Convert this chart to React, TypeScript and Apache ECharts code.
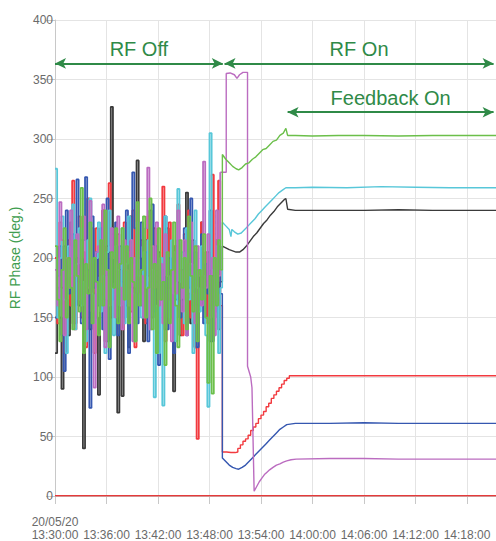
import React, { useEffect, useRef } from "react";
import * as echarts from "echarts";

// Time axis in minutes after 20/05/20 13:30:00
const xTicksMinutes = [0, 6, 12, 18, 24, 30, 36, 42, 48];
const xMax = 51.38;
const noiseStepMinutes = 0.25;

const blackNoise = [
  120, 175, 150, 90, 210, 165, 135, 230, 185, 145,
  200, 160, 215, 40, 175, 190, 140, 225, 170, 150,
  85, 195, 240, 165, 130, 205, 327, 180, 150, 70,
  190, 84, 215, 160, 125, 235, 175, 145, 282, 200,
  160, 130, 215, 185, 240, 150, 175, 120, 205, 165,
  190, 140, 225, 175, 155, 88, 210, 180, 135, 165,
  200, 255, 170, 145, 215, 125, 190, 160, 230, 175,
  150, 205, 130, 185, 160, 215, 140, 180,
];
const redNoise = [
  200, 145, 230, 175, 120, 190, 215, 160, 265, 140,
  180, 235, 150, 205, 125, 250, 170, 195, 120, 225,
  185, 160, 240, 130, 210, 263, 150, 175, 195, 220,
  165, 140, 230, 185, 205, 155, 240, 125, 170, 210,
  215, 180, 145, 235, 190, 160, 225, 140, 200, 175,
  260, 130, 175, 230, 150, 210, 185, 245, 160, 135,
  220, 175, 240, 150, 195, 125, 48, 185, 230, 160,
  205, 145, 190, 270, 175, 215, 265, 160,
];
const blueNoise = [
  150, 185, 210, 135, 105, 240, 170, 195, 220, 160,
  266, 180, 145, 215, 268, 190, 74, 235, 175, 205,
  160, 225, 140, 185, 250, 115, 200, 165, 230, 135,
  210, 180, 150, 240, 120, 195, 272, 225, 145, 190,
  230, 160, 205, 130, 180, 245, 155, 210, 110, 195,
  170, 235, 140, 200, 185, 120, 165, 215, 150, 190,
  225, 135, 175, 250, 160, 205, 125, 185, 220, 145,
  195, 170, 240, 130, 185, 155, 210, 170,
];
const cyanNoise = [
  275, 150, 200, 235, 165, 120, 210, 185, 245, 140,
  195, 225, 160, 180, 130, 215, 250, 170, 145, 200,
  230, 155, 185, 120, 205, 240, 175, 135, 210, 190,
  160, 225, 145, 195, 235, 215, 170, 130, 230, 185,
  150, 205, 175, 215, 140, 190, 83, 160, 120, 200,
  76, 235, 185, 150, 215, 170, 130, 258, 180, 205,
  145, 225, 165, 195, 120, 240, 175, 155, 210, 185,
  135, 75, 305, 190, 150, 210, 120, 175,
];
const purpleNoise = [
  190, 160, 247, 215, 135, 200, 175, 240, 145, 185,
  220, 165, 200, 235, 140, 175, 248, 155, 91, 205,
  210, 180, 245, 125, 190, 160, 225, 200, 150, 235,
  175, 140, 215, 190, 160, 215, 130, 200, 245, 170,
  185, 150, 225, 276, 140, 210, 175, 230, 160, 195,
  145, 220, 185, 165, 130, 205, 170, 240, 190, 155,
  215, 135, 195, 230, 170, 145, 210, 185, 160, 281,
  175, 220, 150, 200, 135, 240, 185, 272,
];
const greenNoise = [
  210, 165, 130, 190, 225, 150, 200, 175, 140, 215,
  185, 155, 259, 120, 195, 170, 230, 145, 200, 180,
  135, 215, 160, 240, 190, 125, 205, 175, 225, 145,
  195, 225, 165, 210, 145, 200, 180, 130, 247, 160,
  190, 235, 150, 175, 250, 140, 195, 120, 225, 165,
  180, 110, 205, 145, 190, 230, 160, 125, 215, 175,
  200, 140, 235, 185, 155, 210, 130, 190, 165, 220,
  150, 95, 185, 86, 200, 160, 215, 190,
];

// After RF On: [minutes, degrees]
const greenTail = [
  [19.5, 287], [19.9, 283], [20.3, 280], [20.7, 277], [21.1, 275], [21.4, 274],
  [21.8, 276], [22.2, 279], [22.6, 280], [23.0, 283], [23.4, 285], [23.8, 288],
  [24.2, 291], [24.6, 292], [25.0, 295], [25.4, 298], [25.8, 299], [26.2, 303],
  [26.6, 305], [26.9, 309], [27.1, 303], [28, 303], [30, 302.5], [33, 303],
  [36, 303], [40, 302.5], [44, 303], [48, 303], [51.4, 303],
];
const cyanTail = [
  [19.5, 230], [19.9, 227], [20.3, 224], [20.5, 218], [20.6, 224], [20.9, 222],
  [21.3, 220], [21.7, 221], [22.1, 224], [22.5, 227], [22.9, 230], [23.3, 233],
  [23.7, 237], [24.1, 240], [24.5, 243], [24.9, 246], [25.3, 249], [25.7, 252],
  [26.1, 255], [26.5, 257], [26.9, 259], [28, 259], [30, 259.5], [34, 259],
  [38, 260], [42, 259.5], [46, 259], [51.4, 259],
];
const blackTail = [
  [19.5, 210], [19.9, 208.5], [20.3, 207], [20.7, 206], [21.1, 205], [21.5, 205],
  [21.9, 207], [22.3, 210], [22.7, 214], [23.1, 218], [23.5, 221], [23.9, 225],
  [24.3, 229], [24.7, 232], [25.1, 236], [25.5, 239], [25.9, 243], [26.3, 246],
  [26.7, 249], [26.9, 250], [27.1, 241], [28, 240], [32, 240], [36, 240],
  [40, 240.5], [44, 240], [48, 240], [51.4, 240],
];
const redTail = [
  [19.5, 37], [20, 36.5], [20.5, 36.5], [21.0, 37], [21.3, 40], [21.6, 43],
  [21.9, 46], [22.2, 48], [22.5, 51], [22.8, 55], [23.1, 58], [23.4, 61],
  [23.7, 65], [24.0, 68], [24.3, 71], [24.6, 75], [24.9, 78], [25.2, 82],
  [25.5, 85], [25.8, 88], [26.1, 91], [26.4, 94], [26.7, 97], [27.0, 99],
  [27.3, 101], [30, 101], [35, 101], [40, 101], [45, 101], [51.4, 101],
];
const blueTail = [
  [19.5, 32], [19.9, 29], [20.3, 26], [20.7, 24], [21.1, 23], [21.4, 22.5],
  [21.8, 24], [22.2, 26], [22.6, 29], [23.0, 32], [23.4, 35], [23.8, 38],
  [24.2, 41], [24.6, 44], [25.0, 47], [25.4, 50], [25.8, 53], [26.2, 56],
  [26.6, 58], [27.0, 60], [28, 61], [32, 61], [36, 61.5], [40, 61],
  [44, 61], [48, 61], [51.4, 61],
];
const purpleTail = [
  [19.95, 355], [20.4, 355.5], [20.9, 354], [21.2, 351], [21.5, 354], [21.9, 356],
  [22.43, 356], [22.43, 109], [22.8, 100], [22.95, 91], [23.2, 4], [23.5, 8], [23.8, 12],
  [24.1, 15], [24.4, 18], [24.7, 20], [25.0, 22], [25.4, 24], [25.8, 26],
  [26.2, 27], [26.6, 28.5], [27.0, 29.5], [27.5, 30.5], [28.1, 31], [32, 31.5],
  [36, 31.5], [40, 31], [44, 31], [48, 31], [51.4, 31],
];
const zeroLine = [[0, 0.3], [51.4, 0.3]];

// Annotations: [label, startMin, endMin, level]
const annotations: [string, number, number, number][] = [
  ["RF Off", 0, 19.55, 363.5],
  ["RF On", 19.75, 51.1, 363.5],
  ["Feedback On", 27.1, 51.1, 322.5],
];

const yMin = 0;
const yMax = 400;
const yInterval = 50;

const ARROW_GREEN = "#2f8a47";
const NAME_GREEN = "#3f9d50";

function noisePoints(noise: number[]) {
  return noise.map((v, i) => [i * noiseStepMinutes, v]);
}
function tailPoints(noise: number[], tail: number[][]) {
  const last = noise[noise.length - 1];
  const lastX = (noise.length - 1) * noiseStepMinutes;
  return [[lastX, last], [tail[0][0], last], ...tail];
}

function fmtTime(min: number) {
  const total = 13 * 60 + 30 + min;
  const h = Math.floor(total / 60);
  const m = Math.round(total % 60);
  return `${String(h).padStart(2, "0")}:${String(m).padStart(2, "0")}:00`;
}

export default function App() {
  const ref = useRef<HTMLDivElement>(null);
  useEffect(() => {
    if (!ref.current) return;
    const chart = echarts.init(ref.current, undefined, { renderer: "svg" });
    const font = "Liberation Sans, Arial, Helvetica, sans-serif";
    const mk = (name: string, color: string, data: number[][], z: number, step: any, width: number, extra: any = {}) => ({
      name,
      type: "line",
      step,
      data,
      symbol: "none",
      z,
      lineStyle: { color, width },
      itemStyle: { color },
      ...extra,
    });
    const markLineData = annotations.map(([label, a, b, lvl]) => [
      {
        coord: [a, lvl],
        label: {
          show: true,
          formatter: label,
          position: "insideMiddleTop",
          distance: 4,
          color: ARROW_GREEN,
          fontSize: 20,
          fontFamily: font,
        },
      },
      { coord: [b, lvl] },
    ]);
    const specs: [string, string, number[], number[][], boolean][] = [
      ["black", "#3a3a3a", blackNoise, blackTail, false],
      ["red", "#f23a3f", redNoise, redTail, true],
      ["blue", "#3557b0", blueNoise, blueTail, false],
      ["cyan", "#58c7d9", cyanNoise, cyanTail, false],
      ["purple", "#bb6cc0", purpleNoise, purpleTail, false],
      ["green", "#6bbf4a", greenNoise, greenTail, false],
    ];
    const series: any[] = [];
    specs.forEach(([name, color, noise, tail, stepTail], i) => {
      series.push(mk(name, color, noisePoints(noise), 2 + i, "end", 1.8));
      series.push(mk(name, color, tailPoints(noise, tail), 2 + i, stepTail ? "end" : false, 1.4));
    });
    series.push(mk("zero", "#e53a3a", zeroLine, 9, false, 1.5, {
      markLine: {
        silent: true,
        symbol: ["arrow", "arrow"],
        symbolSize: [8, 11],
        lineStyle: { color: ARROW_GREEN, width: 2, type: "solid" },
        itemStyle: { color: ARROW_GREEN },
        data: markLineData,
      },
    }));
    chart.setOption({
      animation: false,
      textStyle: { fontFamily: font },
      grid: { left: 55, right: 0, top: 20, bottom: 44, containLabel: false },
      xAxis: {
        type: "value",
        min: 0,
        max: xMax,
        interval: 6,
        axisLine: { show: true, lineStyle: { color: "#c8c8c8" } },
        axisTick: { show: true, length: 8, lineStyle: { color: "#c8c8c8" } },
        splitLine: { show: true, lineStyle: { color: "#e4e4e4" } },
        axisLabel: {
          color: "#6a6a6a",
          fontSize: 12,
          lineHeight: 13,
          margin: 19,
          showMaxLabel: false,
          formatter: (v: number) => {
            const idx = xTicksMinutes.findIndex((t) => Math.abs(t - v) < 1e-6);
            if (idx < 0) return "";
            if (idx === 0) return "20/05/20\n" + fmtTime(v);
            return "\n" + fmtTime(v);
          },
        },
      },
      yAxis: {
        type: "value",
        min: yMin,
        max: yMax,
        interval: yInterval,
        name: "RF Phase (deg.)",
        nameLocation: "middle",
        nameGap: 32,
        nameTextStyle: { color: NAME_GREEN, fontSize: 14, fontFamily: font },
        axisLine: { show: true, lineStyle: { color: "#c8c8c8" } },
        axisTick: { show: true, length: 9, lineStyle: { color: "#c8c8c8" } },
        splitLine: { show: true, lineStyle: { color: "#e4e4e4" } },
        axisLabel: { color: "#6a6a6a", fontSize: 12, margin: 2 },
      },
      series,
    });
    return () => chart.dispose();
  }, []);
  return <div ref={ref} style={{ width: 496, height: 541, position: "absolute", left: 0, top: 0 }} />;
}
